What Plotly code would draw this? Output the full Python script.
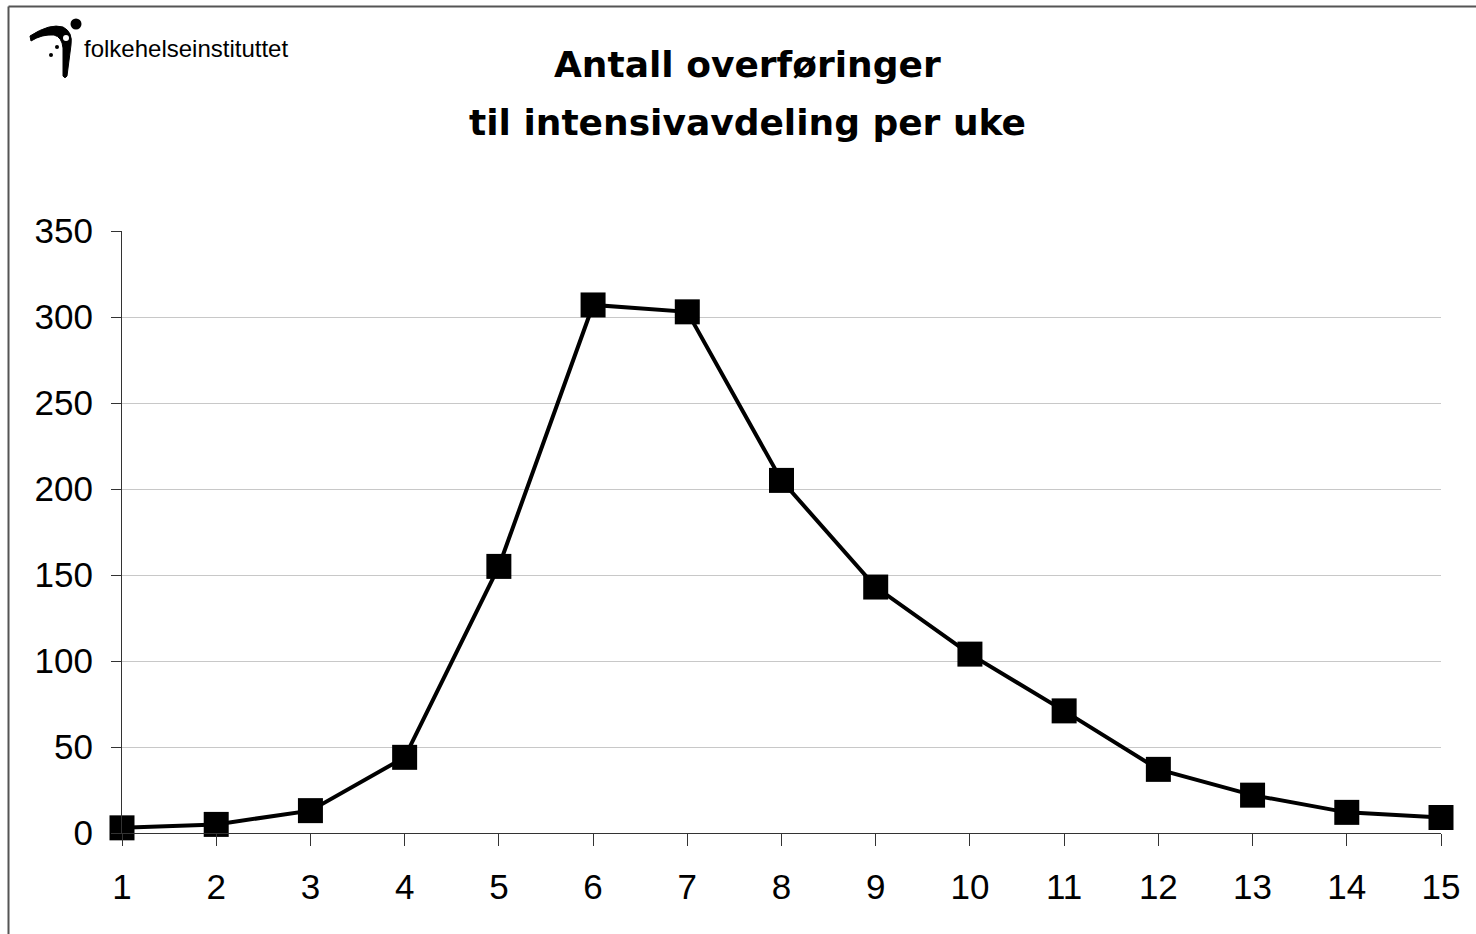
import plotly.graph_objects as go

weeks = list(range(1, 16))
transfers = [3, 5, 13, 44, 155, 307, 303, 205, 143, 104, 71, 37, 22, 12, 9]
y_ticks = [0, 50, 100, 150, 200, 250, 300, 350]
title_lines = ["Antall overføringer", "til intensivavdeling per uke"]
logo_text = "folkehelseinstituttet"

FW, FH = 1476, 934
L, R, T, B = 122, 1441, 231, 833
W, H = R - L, B - T


def px(x):
    return (x - L) / W


def py(y):
    return (B - y) / H


fig = go.Figure()
fig.add_trace(go.Scatter(
    x=weeks, y=transfers, mode="lines+markers",
    line=dict(color="black", width=4),
    marker=dict(symbol="square", size=25, color="black"),
    cliponaxis=False, showlegend=False,
))

font_main = "Liberation Sans, Arial, sans-serif"

fig.update_layout(
    width=FW, height=FH,
    margin=dict(l=L, r=FW - R, t=T, b=FH - B),
    paper_bgcolor="white", plot_bgcolor="white",
    xaxis=dict(
        range=[1, 15], tickmode="array", tickvals=weeks,
        ticktext=[str(w) for w in weeks],
        showgrid=False, zeroline=False,
        showline=True, linecolor="#333", linewidth=1,
        ticks="outside", ticklen=12, tickcolor="#333", tickwidth=1,
        tickfont=dict(family=font_main, size=35, color="black"),
        ticklabelstandoff=11,
    ),
    yaxis=dict(
        range=[0, 350], tickmode="array", tickvals=y_ticks,
        ticktext=[str(v) for v in y_ticks],
        showgrid=True, gridcolor="#c8c8c8", gridwidth=1,
        zeroline=False,
        showline=True, linecolor="#333", linewidth=1,
        ticks="outside", ticklen=10, tickcolor="#333", tickwidth=1,
        tickfont=dict(family=font_main, size=35, color="black"),
        ticklabelstandoff=11,
    ),
)

# title (two lines)
for line, yc in zip(title_lines, [64, 122]):
    fig.add_annotation(
        text="<b>" + line + "</b>", xref="paper", yref="paper",
        x=px(747), y=py(yc), xanchor="center", yanchor="middle",
        showarrow=False,
        font=dict(family="DejaVu Sans, sans-serif", size=36, color="black"),
    )

# logo text
fig.add_annotation(
    text=logo_text, xref="paper", yref="paper",
    x=px(82), y=py(49), xanchor="left", yanchor="middle",
    showarrow=False,
    font=dict(family=font_main, size=24, color="black"),
)

# border lines (frame)
fig.add_shape(type="line", xref="paper", yref="paper",
              x0=px(8.5), y0=py(6.5), x1=px(8.5), y1=py(960),
              line=dict(color="#555", width=2))
fig.add_shape(type="line", xref="paper", yref="paper",
              x0=px(8.5), y0=py(6.5), x1=px(1500), y1=py(6.5),
              line=dict(color="#555", width=2))


def pt(x, y):
    return f"{px(x):.5f},{py(y):.5f}"


# logo glyph
path = ("M " + pt(30, 36) + " Q " + pt(50, 23) + " " + pt(63, 27) +
        " Q " + pt(73, 32) + " " + pt(71, 45) +
        " L " + pt(67, 76) + " Q " + pt(65, 79) + " " + pt(63, 76) +
        " L " + pt(63, 48) + " Q " + pt(62, 37) + " " + pt(54, 35) +
        " Q " + pt(42, 34) + " " + pt(31, 41) + " Z")
fig.add_shape(type="path", xref="paper", yref="paper", path=path,
              fillcolor="black", line=dict(color="black", width=1))


def circle(cx, cy, r, color):
    fig.add_shape(type="circle", xref="paper", yref="paper",
                  x0=px(cx - r), x1=px(cx + r), y0=py(cy + r), y1=py(cy - r),
                  fillcolor=color, line=dict(color=color, width=0))


circle(66, 38, 3, "white")
circle(76, 24, 5.5, "black")
circle(57, 47, 2, "black")
circle(51, 55, 2, "black")

fig.write_html("out.html", config={"displayModeBar": False},
               post_script="document.body.style.margin='0';")
